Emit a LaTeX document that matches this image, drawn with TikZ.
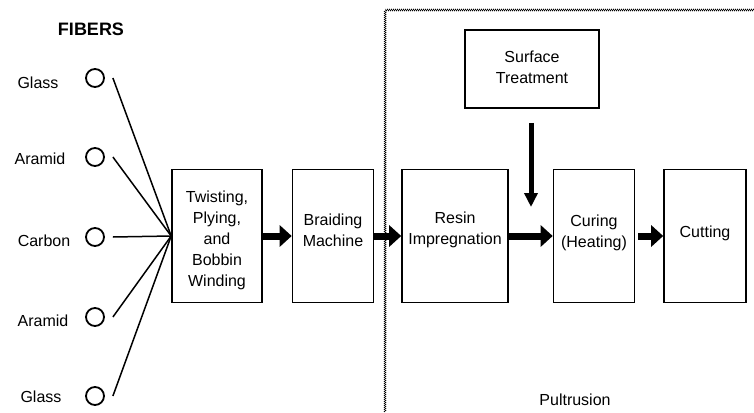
\documentclass[tikz,border=0pt]{standalone}
\usepackage{fontspec}
\setmainfont{Liberation Sans}
\usetikzlibrary{arrows.meta,decorations.pathmorphing,positioning}

\tikzset{
  txt/.style={font=\fontsize{16}{21}\selectfont, align=center, inner sep=0pt},
  fiber/.style={draw, circle, line width=1.8pt, minimum size=18pt, inner sep=0pt},
  procbox/.style={draw, line width=1.6pt, minimum height=133pt},
  feed/.style={line width=1.5pt},
  blockarrow/.style={line width=7pt, -{Triangle[length=12pt,width=21pt]}},
  downarrow/.style={line width=5pt, -{Triangle[length=14pt,width=13pt]}},
  zigline/.style={line width=0.45pt, decorate, decoration={zigzag, segment length=2pt, amplitude=1pt}}
}

\begin{document}
\begin{tikzpicture}[x=1pt,y=-1pt]
\useasboundingbox (0,0) rectangle (754,412);

% pultrusion boundary
\draw[zigline] (385,412) -- (385,10) -- (754,10);
\node[txt] (pultr) at (575,400) {Pultrusion};

% fibers
\node[txt, font=\fontsize{18}{21}\selectfont\bfseries] (fibers) at (91,29) {FIBERS};
\node[fiber] (glassA) at (95,78) {};
\node[fiber] (aramidA) at (95,157) {};
\node[fiber] (carbon) at (95,237) {};
\node[fiber] (aramidB) at (95,317) {};
\node[fiber] (glassB) at (95,396) {};
\node[txt] (lglassA) at (38,83) {Glass};
\node[txt] (laramidA) at (40,159) {Aramid};
\node[txt] (lcarbon) at (44,241) {Carbon};
\node[txt] (laramidB) at (43,321) {Aramid};
\node[txt] (lglassB) at (41,397) {Glass};

% process boxes
\node[procbox, minimum width=90pt] (twist) at (217,236) {};
\node[procbox, minimum width=81pt] (braid) at (333,236) {};
\node[procbox, minimum width=106pt] (resin) at (455,236) {};
\node[procbox, minimum width=81pt] (cure) at (594,236) {};
\node[procbox, minimum width=82pt] (cut) at (705,236) {};
\node[draw, line width=1.6pt, minimum width=134pt, minimum height=78pt] (surface) at (532,69) {};
\node[txt] (ttwist) at ([yshift=-4pt]twist.center) {Twisting,\\Plying,\\and\\Bobbin\\Winding};
\node[txt] (tbraid) at ([yshift=6pt]braid.center) {Braiding\\Machine};
\node[txt] (tresin) at ([yshift=6pt]resin.center) {Resin\\Impregnation};
\node[txt] (tcure) at ([yshift=3pt]cure.center) {Curing\\(Heating)};
\node[txt] (tcut) at ([yshift=3pt]cut.center) {Cutting};
\node[txt] (tsurface) at ([yshift=2pt]surface.center) {Surface\\Treatment};
\coordinate (merge) at (531,207);

% fibers into twisting
\draw[feed] ([xshift=8pt]glassA.east) -- (twist.west);
\draw[feed] ([xshift=8pt]aramidA.east) -- (twist.west);
\draw[feed] ([xshift=8pt]carbon.east) -- (twist.west);
\draw[feed] ([xshift=8pt]aramidB.east) -- (twist.west);
\draw[feed] ([xshift=8pt]glassB.east) -- (twist.west);

% flow arrows
\draw[blockarrow] (twist.east) -- (braid.west);
\draw[blockarrow] (braid.east) -- (resin.west);
\draw[blockarrow] (resin.east) -- (cure.west);
\draw[blockarrow, shorten <=3pt] (cure.east) -- (cut.west);
\draw[downarrow] ([yshift=-14pt]surface.south -| merge) -- (merge);
\end{tikzpicture}
\end{document}
